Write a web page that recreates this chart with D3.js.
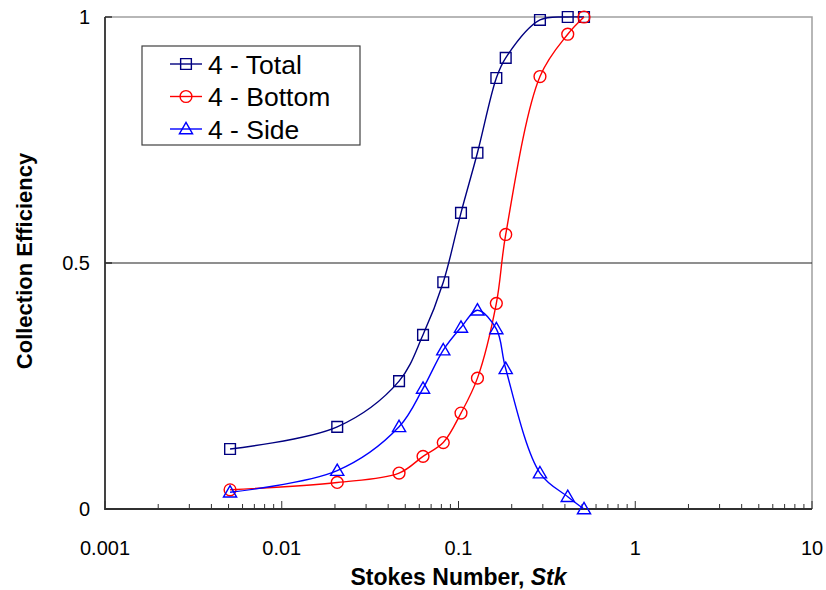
<!DOCTYPE html>
<html>
<head>
<meta charset="utf-8">
<script src="https://cdn.jsdelivr.net/npm/d3@7"></script>
<style>
  body { margin: 0; background: #fff; }
  svg text { font-family: "Liberation Sans", Arial, sans-serif; }
</style>
</head>
<body>
<script>
// data
var stk      = [0.0051, 0.0206, 0.0461, 0.063, 0.082, 0.1033, 0.128, 0.1637, 0.185, 0.289, 0.415, 0.513];
var total    = [0.122, 0.167, 0.26, 0.354, 0.461, 0.602, 0.724, 0.876, 0.917, 0.994, 1.0, 1.0];
var bottom   = [0.039, 0.054, 0.073, 0.107, 0.135, 0.195, 0.266, 0.418, 0.558, 0.879, 0.965, 1.0];
var side     = [0.034, 0.078, 0.167, 0.245, 0.323, 0.369, 0.404, 0.366, 0.285, 0.073, 0.025, 0.0];
var xTicks   = [0.001, 0.01, 0.1, 1, 10];
var xTickLabels = ["0.001", "0.01", "0.1", "1", "10"];
var yTicks   = [0, 0.5, 1];
var yTickLabels = ["0", "0.5", "1"];
var seriesNames = ["4 - Total", "4 - Bottom", "4 - Side"];

var width = 826, height = 590;
var margin = {top: 17, right: 14, bottom: 81, left: 105};
var plotW = width - margin.left - margin.right,
    plotH = height - margin.top - margin.bottom;

var svg = d3.select("body").append("svg")
    .attr("width", width)
    .attr("height", height);

var g = svg.append("g")
    .attr("transform", "translate(" + margin.left + "," + margin.top + ")");

var x = d3.scaleLog().domain([0.001, 10]).range([0, plotW]);
var y = d3.scaleLinear().domain([0, 1]).range([plotH, 0]);

// top / right border of plot area
g.append("path")
    .attr("d", "M0,0H" + plotW + "V" + plotH)
    .attr("fill", "none")
    .attr("stroke", "#a0a0a0")
    .attr("stroke-width", 1.5);

// gridline at 0.5
g.append("line")
    .attr("x1", 0).attr("x2", plotW)
    .attr("y1", y(0.5)).attr("y2", y(0.5))
    .attr("stroke", "#202020")
    .attr("stroke-width", 1.2);

// minor x ticks (inside)
var minor = [];
for (var d = 0.001; d < 10; d *= 10) {
  for (var k = 2; k <= 9; k++) minor.push(d * k);
}
g.selectAll(".minor")
  .data(minor)
  .enter().append("line")
    .attr("x1", function(v) { return x(v); })
    .attr("x2", function(v) { return x(v); })
    .attr("y1", plotH).attr("y2", plotH - 5)
    .attr("stroke", "#303030");

g.selectAll(".major")
  .data(xTicks)
  .enter().append("line")
    .attr("x1", function(v) { return x(v); })
    .attr("x2", function(v) { return x(v); })
    .attr("y1", plotH).attr("y2", plotH - 8)
    .attr("stroke", "#303030");

g.selectAll(".yt")
  .data(yTicks)
  .enter().append("line")
    .attr("x1", 0).attr("x2", 7)
    .attr("y1", function(v) { return y(v); })
    .attr("y2", function(v) { return y(v); })
    .attr("stroke", "#202020")
    .attr("stroke-width", 1.3);

// axis lines
g.append("path")
    .attr("d", "M0,0V" + plotH + "H" + plotW)
    .attr("fill", "none")
    .attr("stroke", "#303030")
    .attr("stroke-width", 1.8);

// tick labels
g.selectAll(".xl")
  .data(xTicks)
  .enter().append("text")
    .attr("x", function(v) { return x(v); })
    .attr("y", plotH + 46)
    .attr("text-anchor", "middle")
    .style("font-size", "20px")
    .text(function(v, i) { return xTickLabels[i]; });

g.selectAll(".yl")
  .data(yTicks)
  .enter().append("text")
    .attr("x", -15)
    .attr("y", function(v) { return y(v); })
    .attr("dy", "0.36em")
    .attr("text-anchor", "end")
    .style("font-size", "20px")
    .text(function(v, i) { return yTickLabels[i]; });

// axis titles
var xt = svg.append("text")
    .attr("x", margin.left + plotW / 2 + 0)
    .attr("y", 585)
    .attr("text-anchor", "middle")
    .style("font-size", "23px")
    .style("font-weight", "bold");
xt.append("tspan").text("Stokes Number, ");
xt.append("tspan").style("font-style", "italic").text("Stk");

svg.append("text")
    .attr("transform", "translate(32," + (margin.top + plotH / 2 - 2) + ") rotate(-90)")
    .attr("text-anchor", "middle")
    .style("font-size", "22px")
    .style("font-weight", "bold")
    .text("Collection Efficiency");

// series
var series = [
  {name: seriesNames[0], values: total,  color: "#000080", marker: "square"},
  {name: seriesNames[1], values: bottom, color: "#ff0000", marker: "circle"},
  {name: seriesNames[2], values: side,   color: "#0000ff", marker: "triangle"}
];

var line = d3.line()
    .x(function(d) { return x(d[0]); })
    .y(function(d) { return y(d[1]); })
    .curve(d3.curveCatmullRom.alpha(0.5));

var symbolFor = {
  square: d3.symbol().type(d3.symbolSquare).size(115),
  circle: d3.symbol().type(d3.symbolCircle).size(110),
  triangle: d3.symbol().type(d3.symbolTriangle).size(75)
};

series.forEach(function(s) {
  var pts = stk.map(function(v, i) { return [v, s.values[i]]; });
  g.append("path")
      .datum(pts)
      .attr("d", line)
      .attr("fill", "none")
      .attr("stroke", s.color)
      .attr("stroke-width", 1.4);
  g.selectAll(".m-" + s.marker)
    .data(pts)
    .enter().append("path")
      .attr("transform", function(d) {
        return "translate(" + x(d[0]) + "," + (y(d[1]) + (s.marker === "triangle" ? 1 : 0)) + ")";
      })
      .attr("d", symbolFor[s.marker])
      .attr("fill", "none")
      .attr("stroke", s.color)
      .attr("stroke-width", 1.4);
});

// legend
var legend = svg.append("g").attr("transform", "translate(142,46)");
legend.append("rect")
    .attr("width", 218).attr("height", 99)
    .attr("fill", "#fff")
    .attr("stroke", "#404040")
    .attr("stroke-width", 1.2);

series.forEach(function(s, i) {
  var ly = 18 + i * 32.5;
  legend.append("line")
      .attr("x1", 28).attr("x2", 60)
      .attr("y1", ly).attr("y2", ly)
      .attr("stroke", s.color)
      .attr("stroke-width", 1.4);
  legend.append("path")
      .attr("transform", "translate(44," + (ly + (s.marker === "triangle" ? 1 : 0)) + ")")
      .attr("d", symbolFor[s.marker])
      .attr("fill", "none")
      .attr("stroke", s.color)
      .attr("stroke-width", 1.4);
  legend.append("text")
      .attr("x", 66)
      .attr("y", ly)
      .attr("dy", "0.36em")
      .style("font-size", "26.5px")
      .text(s.name);
});
</script>
</body>
</html>
